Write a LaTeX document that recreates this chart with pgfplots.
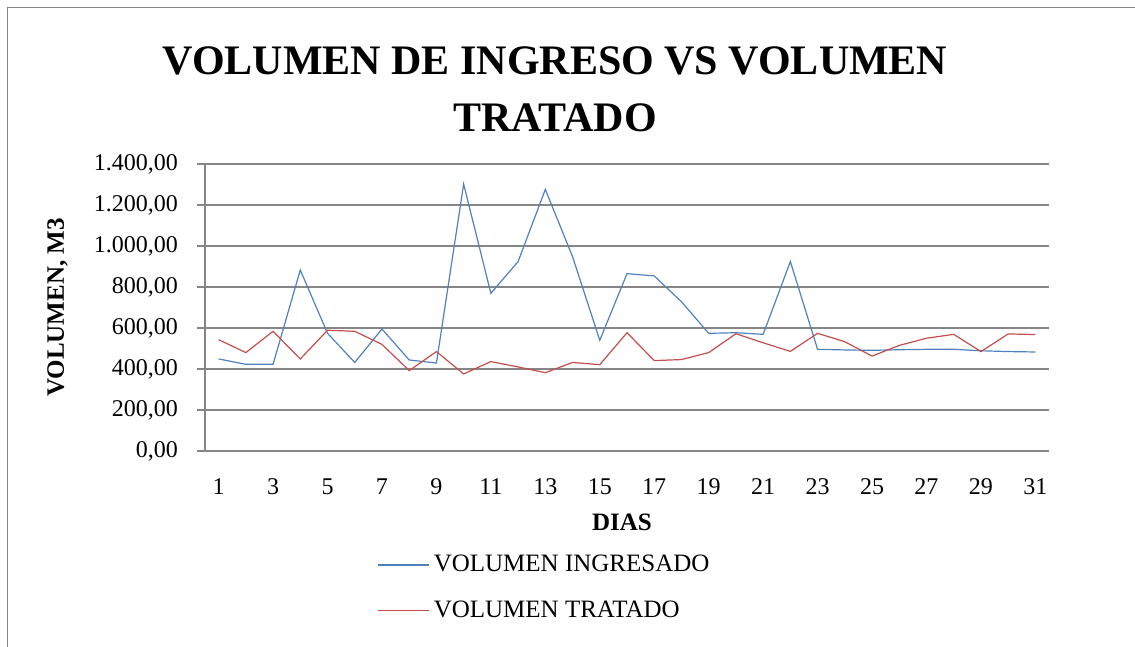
\documentclass[border=0pt]{standalone}
\usepackage{fontspec}
\setmainfont{Liberation Serif}
\usepackage{pgfplots}
\pgfplotsset{compat=1.18}
\definecolor{gridgray}{RGB}{134,134,134}
\definecolor{serblue}{RGB}{79,129,189}
\definecolor{serred}{RGB}{192,80,77}
\begin{document}
\begin{tikzpicture}[x=1pt,y=1pt]
\path[use as bounding box] (0,0) rectangle (567.5,323.5);
\draw[gridgray, line width=0.75pt] (3.65,-1) -- (3.65,319.85) -- (568.5,319.85);
\node[font=\fontsize{21}{25}\selectfont\bfseries, anchor=base] at (277.5,286) {VOLUMEN DE INGRESO VS VOLUMEN};
\node[font=\fontsize{21}{25}\selectfont\bfseries, anchor=base] at (277.5,257.5) {TRATADO};
\begin{axis}[
  at={(102.5pt,98pt)}, anchor=south west,
  scale only axis, width=422pt, height=143.5pt,
  xmin=0.5, xmax=31.5, ymin=0, ymax=1400,
  xtick={1,3,...,31}, ytick={0,200,...,1400},
  scaled y ticks=false,
  axis x line*=bottom, axis y line*=left,
  axis line style={gridgray, line width=0.75pt, -},
  ymajorgrids, major grid style={gridgray, line width=0.75pt},
  x tick style={draw=none},
  y tick style={gridgray, line width=0.75pt},
  tick align=outside, major tick length=4pt,
  /pgf/number format/assume math mode=true,
  tick label style={font=\fontsize{12}{14}\selectfont},
  xticklabel style={yshift=-6.5pt},
  yticklabel style={xshift=-6pt, /pgf/number format/fixed, /pgf/number format/fixed zerofill,
    /pgf/number format/precision=2, /pgf/number format/use comma,
    /pgf/number format/1000 sep={.}},
  legend cell align=left,
  legend image code/.code={\draw[#1, line width=0.7pt] (0pt,0pt) -- (25.5pt,0pt);},
  legend style={at={(rel axis cs:0,0)}, anchor=north west, xshift=83pt, yshift=-43.4pt,
    draw=none, fill=none, font=\fontsize{12.5}{15}\selectfont,
    nodes={inner ysep=6.5pt}},
]
\addplot[color=serblue, line width=0.6pt] coordinates {
(1,449) (2,423) (3,423) (4,883) (5,574) (6,432) (7,595) (8,444) (9,429) (10,1302)
(11,769) (12,924) (13,1276) (14,948) (15,540) (16,865) (17,854) (18,728) (19,574) (20,577)
(21,569) (22,924) (23,496) (24,493) (25,491) (26,494) (27,496) (28,496) (29,489) (30,485) (31,483)};
\addlegendentry{VOLUMEN INGRESADO}
\addplot[color=serred, line width=0.6pt] coordinates {
(1,543) (2,480) (3,584) (4,449) (5,589) (6,584) (7,520) (8,392) (9,485) (10,376)
(11,436) (12,410) (13,382) (14,432) (15,421) (16,577) (17,441) (18,446) (19,480) (20,572)
(21,528) (22,486) (23,574) (24,533) (25,463) (26,515) (27,550) (28,569) (29,485) (30,571) (31,568)};
\addlegendentry{VOLUMEN TRATADO}
\end{axis}
\node[rotate=90, font=\fontsize{12.5}{15}\selectfont\bfseries] at (28.75,169.75) {VOLUMEN, M3};
\node[font=\fontsize{12.5}{15}\selectfont\bfseries] at (311,62.5) {DIAS};
\end{tikzpicture}
\end{document}
